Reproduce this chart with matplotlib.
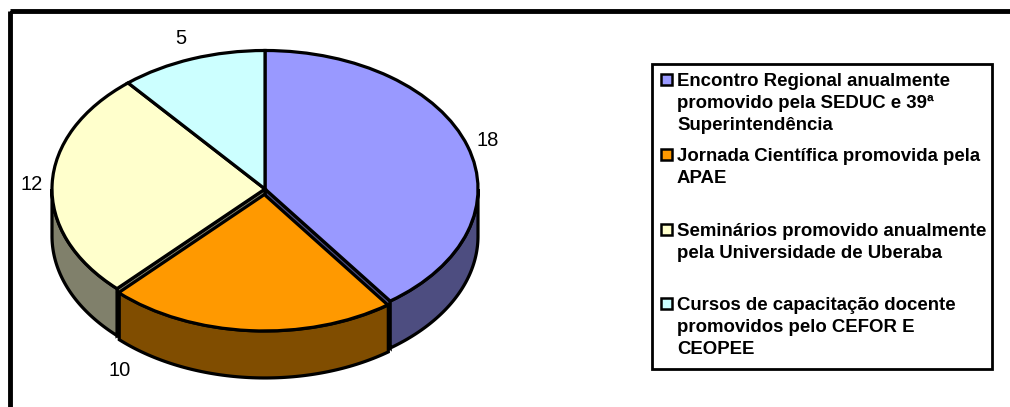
import numpy as np
import matplotlib
matplotlib.use('Agg')
import matplotlib.pyplot as plt
from matplotlib.patches import Rectangle

plt.rcParams['font.family'] = ['Liberation Sans', 'DejaVu Sans']

values = [18, 10, 12, 5]
top_colors = ['#9999FF', '#FF9900', '#FFFFCC', '#CCFFFF']
side_colors = ['#4D4D80', '#804D00', '#80806B', '#668080']
legend_lines = [
    ['Encontro Regional anualmente', 'promovido pela SEDUC e 39ª', 'Superintendência'],
    ['Jornada Científica promovida pela', 'APAE'],
    ['Seminários promovido anualmente', 'pela Universidade de Uberaba'],
    ['Cursos de capacitação docente', 'promovidos pelo CEFOR E', 'CEOPEE'],
]
legend_y = [86, 161, 236, 310]
label_pos = [(488, 140), (120, 370), (32, 184), (181, 38)]

W, H = 1010, 407
# pie centre and radii in pixels
cx, cy, rx, ry = 265, 189, 213, 138.5
depth = 47 / ry
orange_shift = 0.04
orange_r = 0.985

fig = plt.figure(figsize=(W / 100, H / 100), dpi=100)

# pie axes: one data unit is one radius, so the circle comes out as an ellipse
ax = fig.add_axes([0, 0, 1, 1])
wedges, _ = ax.pie(values, colors=top_colors, startangle=90, counterclock=False,
                   explode=[0, orange_shift, 0, 0],
                   wedgeprops={'edgecolor': 'k', 'linewidth': 2.3, 'zorder': 5})
wedges[1].set_radius(orange_r)
ax.set_aspect('auto')
ax.set_xlim(-cx / rx, (W - cx) / rx)
ax.set_ylim((cy - H) / ry, cy / ry)

ends = np.cumsum(values) / sum(values) * 360
starts = ends - np.array(values) / sum(values) * 360


def rim(a, b, dy=0.0, r=1.0):
    t = np.radians(np.linspace(a, b, 80))
    return r * np.sin(t), r * np.cos(t) + dy


def wall(a, b, color, dy=0.0, r=1.0, z=2):
    x, y = rim(a, b, dy, r)
    ax.fill(np.r_[x, x[::-1]], np.r_[y, y[::-1] - depth], fc=color, ec='k', lw=2.3, zorder=z)


def cut(a, color, z=1):
    x, y = rim(a, a)
    ax.fill([0, x[0], x[0], 0], [0, y[0], y[0] - depth, -depth], fc=color, ec='k', lw=2.3, zorder=z)


# only the walls that face the viewer show up
cut(ends[0], side_colors[0])
cut(starts[2], side_colors[2])
wall(90, ends[0], side_colors[0])
wall(starts[2], 270, side_colors[2])
wall(starts[1], ends[1], side_colors[1], dy=-orange_shift, r=orange_r, z=3)

# overlay in image pixels for frame, labels and legend
ov = fig.add_axes([0, 0, 1, 1])
ov.set_xlim(0, W)
ov.set_ylim(H, 0)
ov.axis('off')
ov.patch.set_alpha(0)

ov.add_patch(Rectangle((9.5, 11), 1040, 500, fc='none', ec='k', lw=3.5))

for v, (x, y) in zip(values, label_pos):
    ov.text(x, y, str(v), fontsize=14.5, ha='center', va='center')

ov.add_patch(Rectangle((652, 64), 340, 305, fc='w', ec='k', lw=2))
for color, lines, y0 in zip(top_colors, legend_lines, legend_y):
    ov.add_patch(Rectangle((661, y0 - 12), 11, 11, fc=color, ec='k', lw=1.8))
    for i, line in enumerate(lines):
        ov.text(677, y0 + i * 22, line, fontsize=13.4, fontweight='bold', va='baseline')

fig.savefig('out.png', dpi=100)
